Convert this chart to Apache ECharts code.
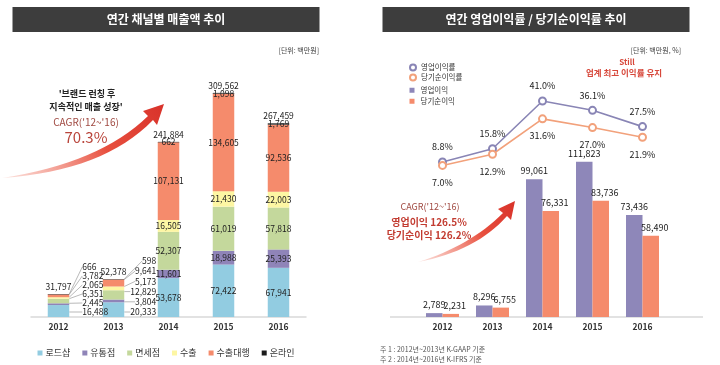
<!DOCTYPE html>
<html>
<head>
<meta charset="utf-8">
<script src="https://cdn.jsdelivr.net/npm/echarts@6/dist/echarts.min.js"></script>
<style>html,body{margin:0;padding:0;background:#fff}#c{width:720px;height:365px}</style>
</head>
<body>
<div id="c"></div>
<script>
// ---- data ----
const years = ['2012', '2013', '2014', '2015', '2016'];
const salesNames = ['로드샵', '유통점', '면세점', '수출', '수출대행', '온라인'];
const roadshop = [16488, 20333, 53678, 72422, 67941];
const retail = [2445, 3804, 11601, 18988, 25393];
const dutyFree = [6351, 12829, 52307, 61019, 57818];
const exportSales = [2065, 5173, 16505, 21430, 22003];
const exportAgency = [3782, 9641, 107131, 134605, 92536];
const online = [666, 598, 662, 1098, 1769];
const salesTotal = [31797, 52378, 241884, 309562, 267459];

const opProfit = [2789, 8296, 99061, 111823, 73436];
const netProfit = [2231, 6755, 76331, 83736, 58490];
const opMargin = [8.8, 15.8, 41.0, 36.1, 27.5];
const netMargin = [7.0, 12.9, 31.6, 27.0, 21.9];

// ---- style ----
const FONT = '"Noto Sans CJK KR", "Noto Sans", sans-serif';
const salesColors = ['#92cce1', '#8f84b8', '#c4d89c', '#fdf6a3', '#f58b6c', '#1b1b1b'];
const LEFT_BOTTOM = 48;
const LEFT_BASE = 365 - LEFT_BOTTOM;
const STEP = [9, 10.2];
const fmt = v => Number(v).toLocaleString('en-US');

// decorative swoosh arrow outline (quadratic curves sampled into a polygon)
function quad(p0, c, p1, n) {
  const pts = [];
  for (let i = 0; i <= n; i++) {
    const t = i / n, a = (1 - t) * (1 - t), b = 2 * (1 - t) * t, d = t * t;
    pts.push([a * p0[0] + b * c[0] + d * p1[0], a * p0[1] + b * c[1] + d * p1[1]]);
  }
  return pts;
}
function arrow(tail, c1, u, h1, tip, h2, l, c2) {
  return [].concat(quad(tail, c1, u, 16), [h1, tip, h2], quad(l, c2, tail, 16));
}

const chart = echarts.init(document.getElementById('c'), null, {renderer: 'canvas'});

const salesData = [roadshop, retail, dutyFree, exportSales, exportAgency, online];
const stackSeries = salesData.map((arr, k) => ({
  name: salesNames[k], type: 'bar', stack: 'sales',
  xAxisIndex: 0, yAxisIndex: 0, barWidth: 21.5, barGap: '-100%',
  data: arr,
  itemStyle: {color: salesColors[k]},
  label: {show: true, position: 'inside', fontSize: 8.5, fontFamily: FONT, color: '#222', formatter: p => fmt(p.value)},
  labelLine: {show: true, length2: 0, lineStyle: {color: '#8a8a8a', width: 0.6}},
  labelLayout: function (p) {
    const d = p.dataIndex;
    if (d > 1) return {};
    const y = LEFT_BASE - 5 - k * STEP[d];
    if (d === 0) return {x: p.rect.x + p.rect.width + 13, y: y, align: 'left', verticalAlign: 'middle'};
    return {x: p.rect.x + p.rect.width + 32, y: y, align: 'right', verticalAlign: 'middle'};
  },
  emphasis: {disabled: true}
}));

const redGrad = new echarts.graphic.LinearGradient(0, 1, 1, 0, [
  {offset: 0, color: 'rgba(240,120,100,0.2)'}, {offset: 0.6, color: '#e8503f'}, {offset: 1, color: '#d8322a'}]);

const option = {
  animation: false,
  textStyle: {fontFamily: FONT},
  grid: [
    {left: 31, width: 275, top: 63.6, bottom: LEFT_BOTTOM},
    {left: 417.5, width: 250, top: 108.6, bottom: 48},
    {left: 417.5, width: 250, top: 84.0, bottom: 186.3}
  ],
  xAxis: [
    {type: 'category', gridIndex: 0, data: years,
     axisLine: {lineStyle: {color: '#d9d9d9', width: 1.5}}, axisTick: {show: false},
     axisLabel: {fontSize: 8.5, color: '#333', fontWeight: 'bold', margin: 6, fontFamily: FONT}},
    {type: 'category', gridIndex: 1, data: years,
     axisLine: {show: false}, axisTick: {show: false},
     axisLabel: {fontSize: 8.5, color: '#333', fontWeight: 'bold', margin: 6, fontFamily: FONT}},
    {type: 'category', gridIndex: 2, data: years, show: false}
  ],
  yAxis: [
    {type: 'value', gridIndex: 0, min: 0, max: 350000, show: false},
    {type: 'value', gridIndex: 1, min: 0, max: 150000, show: false},
    {type: 'value', gridIndex: 2, min: 0, max: 50, show: false}
  ],
  legend: [
    {data: salesNames, left: 37.5, top: 348.5, padding: 0, icon: 'rect', itemWidth: 5, itemHeight: 5, itemGap: 12,
     textStyle: {fontSize: 9, color: '#333', fontFamily: FONT, padding: [0, 0, 0, -2]}},
    {data: ['영업이익률', '당기순이익률'], orient: 'vertical', left: 409, top: 63.5, padding: 0,
     icon: 'emptyCircle', itemWidth: 6, itemHeight: 6, itemGap: 2,
     textStyle: {fontSize: 7.5, color: '#333', fontFamily: FONT}},
    {data: ['영업이익', '당기순이익'], orient: 'vertical', left: 409.5, top: 86.5, padding: 0,
     icon: 'rect', itemWidth: 5, itemHeight: 5, itemGap: 3.5,
     textStyle: {fontSize: 7.5, color: '#333', fontFamily: FONT, padding: [0, 0, 0, 1]}}
  ],
  series: [
    ...stackSeries,
    {name: '합계', type: 'bar', xAxisIndex: 0, yAxisIndex: 0, barWidth: 21.5, barGap: '-100%', z: 1,
     data: salesTotal, itemStyle: {color: 'rgba(0,0,0,0)'},
     label: {show: true, position: 'top', distance: 3, fontSize: 8.5, fontFamily: FONT, color: '#222', formatter: p => fmt(p.value)},
     emphasis: {disabled: true}},
    {name: '영업이익', type: 'bar', xAxisIndex: 1, yAxisIndex: 1, barWidth: 16.5, barGap: '0%',
     data: opProfit, itemStyle: {color: '#8e87b9'},
     label: {show: true, position: 'top', distance: 4, fontSize: 9, fontFamily: FONT, color: '#222', formatter: p => fmt(p.value)}},
    {name: '당기순이익', type: 'bar', xAxisIndex: 1, yAxisIndex: 1, barWidth: 16.5, barGap: '0%',
     data: netProfit, itemStyle: {color: '#f58b6c'},
     label: {show: true, position: 'top', distance: 4, offset: [4, 0], fontSize: 9, fontFamily: FONT, color: '#222', formatter: p => fmt(p.value)}},
    {name: '영업이익률', type: 'line', xAxisIndex: 2, yAxisIndex: 2, data: opMargin,
     symbol: 'emptyCircle', symbolSize: 7, z: 5,
     lineStyle: {color: '#8985b5', width: 1.6},
     itemStyle: {color: '#8985b5', borderWidth: 1.6},
     label: {show: true, position: 'top', distance: 6, fontSize: 9, fontFamily: FONT, color: '#222', formatter: p => p.value.toFixed(1) + '%'}},
    {name: '당기순이익률', type: 'line', xAxisIndex: 2, yAxisIndex: 2, data: netMargin,
     symbol: 'emptyCircle', symbolSize: 7, z: 5,
     lineStyle: {color: '#f2a17b', width: 1.6},
     itemStyle: {color: '#f2a17b', borderWidth: 1.6},
     label: {show: true, position: 'bottom', distance: 8, fontSize: 9, fontFamily: FONT, color: '#222', formatter: p => p.value.toFixed(1) + '%'}}
  ],
  graphic: [
    {type: 'rect', shape: {x: 12.5, y: 7, width: 307, height: 25}, style: {fill: '#3d3d3d'}, silent: true},
    {type: 'text', x: 166, y: 19.5, style: {text: '연간 채널별 매출액 추이', fill: '#fff', font: 'bold 12px ' + FONT, align: 'center', verticalAlign: 'middle'}},
    {type: 'rect', shape: {x: 382.5, y: 7, width: 307, height: 25}, style: {fill: '#3d3d3d'}, silent: true},
    {type: 'text', x: 536, y: 19.5, style: {text: '연간 영업이익률 / 당기순이익률 추이', fill: '#fff', font: 'bold 12px ' + FONT, align: 'center', verticalAlign: 'middle'}},
    {type: 'text', x: 319, y: 50, style: {text: '[단위: 백만원]', fill: '#444', font: '7px ' + FONT, align: 'right', verticalAlign: 'middle'}},
    {type: 'text', x: 681, y: 50, style: {text: '[단위: 백만원, %]', fill: '#444', font: '7px ' + FONT, align: 'right', verticalAlign: 'middle'}},
    // left annotation
    {type: 'polygon', shape: {points: arrow([2, 178], [100, 163], [148, 116], [143, 111], [164, 104], [157, 125], [153, 120], [104, 171])}, style: {fill: redGrad}, silent: true},
    {type: 'text', x: 87, y: 94, style: {text: "'브랜드 런칭 후", fill: '#222', font: 'bold 9px ' + FONT, align: 'center', verticalAlign: 'middle'}},
    {type: 'text', x: 86, y: 107, style: {text: "지속적인 매출 성장'", fill: '#222', font: 'bold 9px ' + FONT, align: 'center', verticalAlign: 'middle'}},
    {type: 'text', x: 86, y: 122, style: {text: "CAGR('12~'16)", fill: '#a04a42', font: '10px ' + FONT, align: 'center', verticalAlign: 'middle'}},
    {type: 'text', x: 86, y: 137, style: {text: '70.3%', fill: '#b9443a', font: '15px ' + FONT, align: 'center', verticalAlign: 'middle'}},
    // right annotation
    {type: 'text', x: 627, y: 62, style: {text: 'Still', fill: '#d7473a', font: 'bold 8px ' + FONT, align: 'center', verticalAlign: 'middle'}},
    {type: 'text', x: 624, y: 73, style: {text: '업계 최고 이익률 유지', fill: '#d7473a', font: 'bold 8.5px ' + FONT, align: 'center', verticalAlign: 'middle'}},
    {type: 'polygon', shape: {points: arrow([418, 262], [470, 246], [503, 213], [498, 209], [515, 201], [511, 220], [507, 216], [476, 251])}, style: {fill: redGrad}, silent: true},
    {type: 'text', x: 430, y: 207, style: {text: "CAGR('12~'16)", fill: '#a04a42', font: '9px ' + FONT, align: 'center', verticalAlign: 'middle'}},
    {type: 'text', x: 429, y: 222, style: {text: '영업이익 126.5%', fill: '#c23b30', font: 'bold 10px ' + FONT, align: 'center', verticalAlign: 'middle'}},
    {type: 'text', x: 429, y: 235, style: {text: '당기순이익 126.2%', fill: '#c23b30', font: 'bold 10px ' + FONT, align: 'center', verticalAlign: 'middle'}},
    // right axis line
    {type: 'line', shape: {x1: 390, y1: 317, x2: 703, y2: 317}, style: {stroke: '#d9d9d9', lineWidth: 1.5}, silent: true},
    // footnotes
    {type: 'text', x: 380, y: 349, style: {text: '주 1 : 2012년~2013년 K-GAAP 기준', fill: '#555', font: '7px ' + FONT, verticalAlign: 'middle'}},
    {type: 'text', x: 380, y: 359, style: {text: '주 2 : 2014년~2016년 K-IFRS 기준', fill: '#555', font: '7px ' + FONT, verticalAlign: 'middle'}}
  ]
};
chart.setOption(option);
</script>
</body>
</html>
